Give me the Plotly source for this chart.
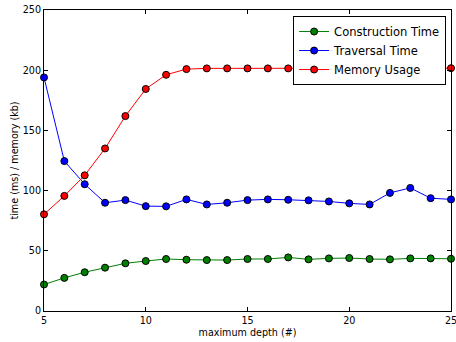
import plotly.graph_objects as go

depth = list(range(5, 26))
construction_time = [22.0, 27.5, 32.2, 36.0, 39.6, 41.5, 43.2, 42.6, 42.3, 42.3, 43.2,
                     43.2, 44.5, 42.9, 43.7, 44.0, 43.2, 42.9, 43.7, 43.7, 43.4]
traversal_time = [194.0, 124.5, 105.3, 89.9, 92.1, 87.1, 86.9, 92.7, 88.5, 89.9, 92.1,
                  92.7, 92.4, 91.9, 91.0, 89.4, 88.5, 98.1, 102.2, 93.7, 92.7]
memory_usage = [80.3, 95.6, 112.7, 135.0, 161.9, 184.4, 196.2, 200.9, 201.5, 201.5, 201.5,
                201.5, 201.5, 201.5, 201.5, 201.5, 201.5, 201.5, 201.5, 201.5, 201.7]

x_ticks = [5, 10, 15, 20, 25]
y_ticks = [0, 50, 100, 150, 200, 250]

series = [
    ("Construction Time", construction_time, "#008000"),
    ("Traversal Time", traversal_time, "#0000ff"),
    ("Memory Usage", memory_usage, "#ff0000"),
]

FONT = "DejaVu Sans"
TICK_SIZE = 9.6

fig = go.Figure()
for name, vals, col in series:
    fig.add_trace(go.Scatter(
        x=depth, y=vals, name=name, mode="lines+markers",
        line=dict(color=col, width=1),
        marker=dict(color=col, size=7, line=dict(color="black", width=1)),
        cliponaxis=False,
    ))

axis_common = dict(
    showgrid=False, zeroline=False, showline=True, linecolor="black", linewidth=1,
    mirror="ticks", ticks="inside", ticklen=4, tickcolor="black", tickwidth=1,
    tickfont=dict(family=FONT, size=TICK_SIZE, color="black"),
)

fig.update_layout(
    width=456, height=342,
    margin=dict(l=44, r=4, t=7, b=31),
    paper_bgcolor="white", plot_bgcolor="white",
    font=dict(family=FONT, color="black"),
    xaxis=dict(range=[x_ticks[0], x_ticks[-1]], tickvals=x_ticks[:-1],
               title=dict(text="maximum depth (#)", font=dict(size=TICK_SIZE), standoff=4),
               **axis_common),
    yaxis=dict(range=[y_ticks[0], y_ticks[-1]], tickvals=y_ticks,
               title=dict(text="time (ms) / memory (kb)", font=dict(size=TICK_SIZE), standoff=2),
               **axis_common),
    legend=dict(x=0.988, y=0.98, xanchor="right", yanchor="top",
                bordercolor="black", borderwidth=1, bgcolor="white",
                font=dict(family=FONT, size=11.5), tracegroupgap=0,
                itemwidth=30),
)

# The last x tick label sits on the figure's right edge and runs past it
fig.add_annotation(x=x_ticks[-1], y=0, xref="x", yref="paper", yanchor="top",
                   yshift=-2, text=str(x_ticks[-1]), showarrow=False,
                   font=dict(family=FONT, size=TICK_SIZE, color="black"))

fig.write_html("out.html")
